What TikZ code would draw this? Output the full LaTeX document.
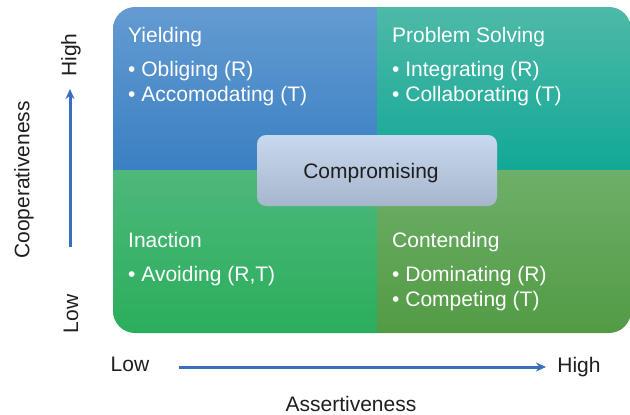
\documentclass[tikz,border=0pt]{standalone}
\usepackage{fontspec}
\setmainfont{Liberation Sans}
\usepackage{tikz}
\usetikzlibrary{arrows.meta, positioning}
\definecolor{mydark}{RGB}{30,30,30}
\definecolor{myblue}{RGB}{58,110,190}
\definecolor{yldtop}{RGB}{100,155,210}
\definecolor{yldbot}{RGB}{58,128,194}
\definecolor{pbstop}{RGB}{78,185,168}
\definecolor{pbsbot}{RGB}{18,168,150}
\definecolor{inatop}{RGB}{78,184,123}
\definecolor{inabot}{RGB}{42,174,92}
\definecolor{cnttop}{RGB}{110,175,105}
\definecolor{cntbot}{RGB}{82,155,68}
\definecolor{cmptop}{RGB}{200,217,238}
\definecolor{cmpbot}{RGB}{166,182,205}
\newcommand{\quadfont}{\fontsize{21}{25.5}\selectfont}
\tikzset{
  quad/.style={rectangle, inner sep=0pt, minimum height=163pt},
  quadtitle/.style={anchor=base west, text=white, font=\quadfont, inner sep=0pt},
  quaditems/.style={anchor=north west, text=white, align=left,
    font=\quadfont, inner sep=0pt},
  compbox/.style={rectangle, rounded corners=9pt, top color=cmptop,
    bottom color=cmpbot, minimum width=240pt, minimum height=71pt,
    inner sep=0pt},
  axislabel/.style={text=mydark, font=\quadfont, inner sep=0pt},
  axisarrow/.style={-{Stealth[length=10pt, width=9pt]}, line width=3pt, color=myblue}
}

\begin{document}
\begin{tikzpicture}[x=1pt, y=-1pt]
  \useasboundingbox (0,0) rectangle (630,415);

  % Four quadrants (outer corners rounded)
  \begin{scope}
    \clip[rounded corners=22pt] (113,7) rectangle (631,333);
    \node[quad, minimum width=264pt, top color=yldtop, bottom color=yldbot] (yield) at (245,88.5) {};
    \node[quad, minimum width=254pt, top color=pbstop, bottom color=pbsbot] (solve) at (504,88.5) {};
    \node[quad, minimum width=264pt, top color=inatop, bottom color=inabot] (inact) at (245,251.5) {};
    \node[quad, minimum width=254pt, top color=cnttop, bottom color=cntbot] (contend) at (504,251.5) {};
  \end{scope}

  % Quadrant texts
  \node[quadtitle] (yieldT) at (128,42) {Yielding};
  \node[quaditems] (yieldL) at (128,61) {\textbullet\ Obliging (R)\\\textbullet\ Accomodating (T)};
  \node[quadtitle] (solveT) at (392,42) {Problem Solving};
  \node[quaditems] (solveL) at (392,61) {\textbullet\ Integrating (R)\\\textbullet\ Collaborating (T)};
  \node[quadtitle] (inactT) at (128,247) {Inaction};
  \node[quaditems] (inactL) at (128,266) {\textbullet\ Avoiding (R,T)};
  \node[quadtitle] (contendT) at (392,247) {Contending};
  \node[quaditems] (contendL) at (392,266) {\textbullet\ Dominating (R)\\\textbullet\ Competing (T)};

  % Compromise in the middle
  \node[compbox] (comp) at (377,170.5) {};
  \node[axislabel, anchor=base] (compT) at (371,178) {Compromising};

  % Cooperativeness axis
  \node[axislabel, rotate=90] (coop) at (24,180) {Cooperativeness};
  \node[axislabel, rotate=90] (coopHi) at (71,55) {High};
  \node[axislabel, rotate=90] (coopLo) at (71,314) {Low};
  \coordinate (ybot) at (70,247);
  \coordinate (ytop) at (70,89);
  \draw[axisarrow] (ybot) -- (ytop);

  % Assertiveness axis
  \node[axislabel] (assLo) at (130,364) {Low};
  \node[axislabel] (assHi) at (579,367) {High};
  \node[axislabel] (ass) at (351,404) {Assertiveness};
  \coordinate (xleft) at (179,367);
  \coordinate (xright) at (546,367);
  \draw[axisarrow] (xleft) -- (xright);
\end{tikzpicture}
\end{document}
